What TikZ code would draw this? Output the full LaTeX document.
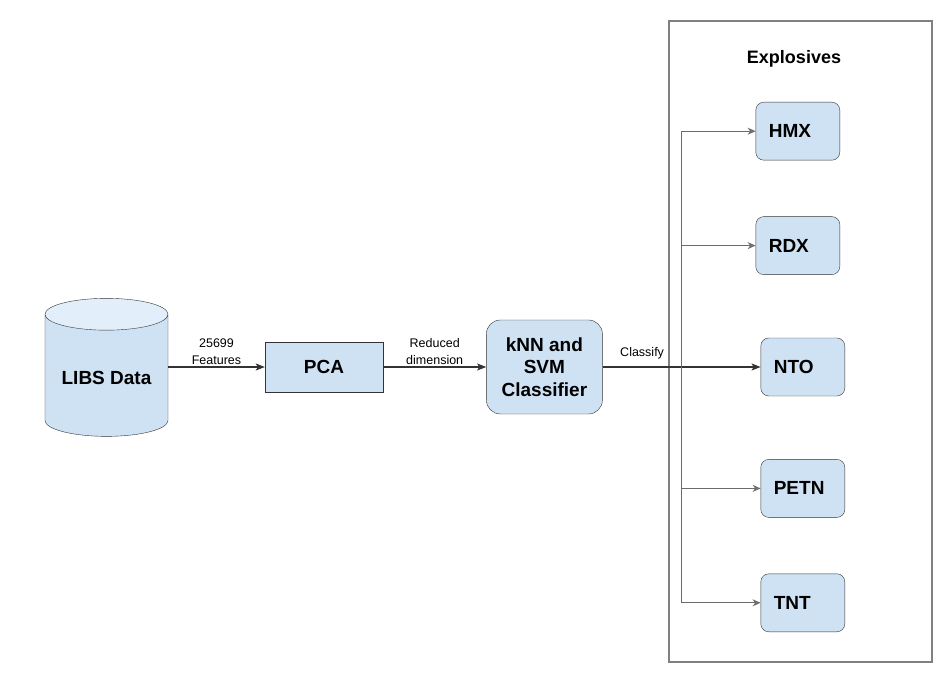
\documentclass[tikz,border=0pt]{standalone}
\usepackage{fontspec}
\setmainfont{Liberation Sans}
\usetikzlibrary{arrows.meta,positioning,shapes.geometric}
\definecolor{boxblue}{HTML}{CFE2F3}
\definecolor{capblue}{HTML}{E2EEF9}
\definecolor{linegray}{HTML}{333333}
\definecolor{wiregray}{HTML}{6B6B6B}

\begin{document}
\begin{tikzpicture}[x=1pt,y=-1pt,
  db/.style={shape=cylinder,shape border rotate=90,aspect=0.33,draw=linegray,
    cylinder uses custom fill,cylinder body fill=boxblue,cylinder end fill=capblue,
    minimum width=123pt,minimum height=138pt,
    font=\fontsize{19}{22}\selectfont\bfseries},
  proc/.style={draw=linegray,fill=boxblue,align=center,
    font=\fontsize{19}{22}\selectfont\bfseries},
  clf/.style={draw=linegray,fill=boxblue,rounded corners=14pt,align=center,
    minimum width=116pt,minimum height=94pt,
    font=\fontsize{19}{22.5}\selectfont\bfseries},
  target/.style={draw=linegray,fill=boxblue,rounded corners=8pt,text width=58pt,
    inner xsep=13pt,align=left,minimum height=58pt,
    font=\fontsize{19}{22}\selectfont\bfseries},
  groupbox/.style={draw=gray,line width=1.8pt},
  lbl/.style={font=\fontsize{12.5}{17}\selectfont,align=center,inner sep=2pt},
  flow/.style={-{Stealth[length=9pt,width=7pt,inset=2pt]},draw=linegray,line width=1.2pt},
  branch/.style={-{Stealth[length=8pt,width=7pt,open]},draw=wiregray,line width=1.2pt}
]
\useasboundingbox (0,0) rectangle (951,687);

% explosives group
\node[groupbox,minimum width=263pt,minimum height=641pt] (expl) at (800.5,341.5) {};
\node[font=\fontsize{18}{20}\selectfont\bfseries] (title) at (794,59) {Explosives};

% pipeline
\node[db] (libs) at (106.5,378) {LIBS Data};
\node[proc,minimum width=118pt,minimum height=50pt] (pca) at (324,367) {PCA};
\node[clf,right=103pt of pca] (knn) {kNN and\\SVM\\Classifier};
\coordinate[right=79pt of knn.east] (split);

% classes
\node[target,right=158pt of knn] (nto) {NTO};
\node[target,above=63pt of nto,xshift=-5pt] (rdx) {RDX};
\node[target,above=56pt of rdx] (hmx) {HMX};
\node[target,below=63pt of nto] (petn) {PETN};
\node[target,below=56pt of petn] (tnt) {TNT};

\draw[flow] (libs.east |- pca.west) -- node[lbl,above]{25699\\Features} (pca);
\draw[flow] (pca) -- node[lbl,above]{Reduced\\dimension} (knn);
\draw[flow] (knn) -- node[lbl,above=5pt]{Classify} (split) -- (nto);

\draw[branch] (split) |- (hmx);
\draw[branch] (split) |- (rdx);
\draw[branch] (split) |- (petn);
\draw[branch] (split) |- (tnt);
\end{tikzpicture}
\end{document}
